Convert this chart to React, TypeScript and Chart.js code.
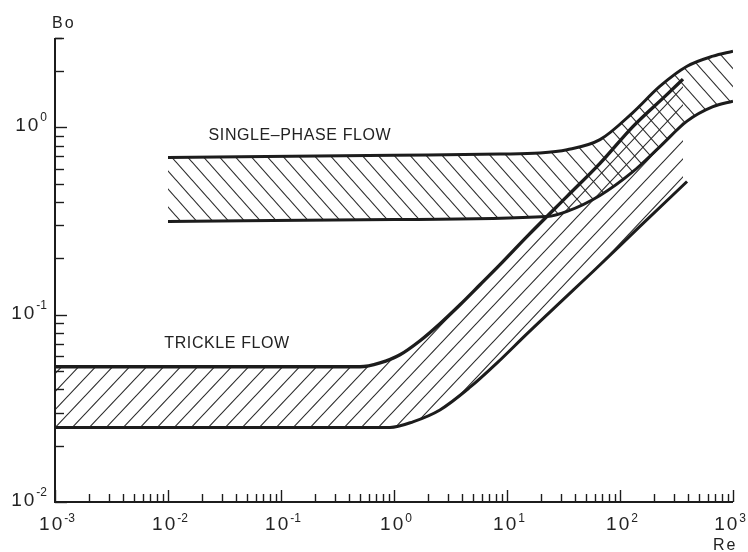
import { useEffect, useRef } from 'react';
import { Chart, registerables } from 'chart.js';

Chart.register(...registerables);

// ---------- data ----------
// Single-phase flow band
const singleTopRe = [0.01, 1, 8.7, 19.5, 34, 66.5, 130, 226, 392, 665, 1000];
const singleTopBo = [0.69, 0.71, 0.72, 0.73, 0.76, 0.86, 1.2, 1.66, 2.12, 2.4, 2.55];
const singleBottomRe = [0.01, 1, 22.6, 34, 66.5, 130, 226, 392, 665, 1000];
const singleBottomBo = [0.314, 0.322, 0.334, 0.356, 0.433, 0.58, 0.79, 1.08, 1.29, 1.38];

// Trickle flow band
const trickleTopRe = [0.001, 0.5, 0.752, 1.13, 1.7, 2.55, 3.84, 5.77, 8.67, 15, 34, 66.5, 130, 261, 361];
const trickleTopBo = [0.0527, 0.0527, 0.0553, 0.0611, 0.0726, 0.0895, 0.113, 0.1445, 0.185, 0.261, 0.428, 0.642, 1.01, 1.5, 1.81];
const trickleBottomRe = [0.001, 0.92, 1.47, 2.55, 4.71, 8.17, 15, 29.4, 57.7, 150, 392];
const trickleBottomBo = [0.025, 0.025, 0.0268, 0.031, 0.041, 0.0553, 0.079, 0.116, 0.17, 0.296, 0.514];

// Axes
const xTickExponents = ['-3', '-2', '-1', '0', '1', '2', '3'];
const yTickExponents = ['-2', '-1', '0'];
const xAxisTitle = 'Re';
const yAxisTitle = 'Bo';

// Region labels
const regionLabels = ['SINGLE–PHASE FLOW', 'TRICKLE FLOW'];
const regionLabelRe = [0.147, 0.0333];
const regionLabelBo = [0.906, 0.07];

const INK = '#1c1c1c';
const FONT = '"Liberation Sans", Arial, sans-serif';

const zip = (xs: number[], ys: number[]) => xs.map((x, i) => ({ x, y: ys[i] }));

function hatch(w: number, h: number, dir: 1 | -1): CanvasPattern | string {
  const c = document.createElement('canvas');
  c.width = w;
  c.height = h;
  const g = c.getContext('2d');
  if (!g) return 'rgba(0,0,0,0.1)';
  g.strokeStyle = '#2a2a2a';
  g.lineWidth = 1.1;
  for (let k = -1; k <= 1; k++) {
    g.beginPath();
    if (dir > 0) {
      g.moveTo(k * w - w, 2 * h);
      g.lineTo(k * w + 2 * w, -h);
    } else {
      g.moveTo(k * w - w, -h);
      g.lineTo(k * w + 2 * w, 2 * h);
    }
    g.stroke();
  }
  const p = g.createPattern(c, 'repeat');
  return p || 'rgba(0,0,0,0.1)';
}

function drawPower(
  ctx: CanvasRenderingContext2D,
  exp: string,
  anchorX: number,
  baseline: number,
  align: 'center' | 'right',
  raise: number,
  maxRight: number
) {
  const anyCtx = ctx as any;
  anyCtx.letterSpacing = '2px';
  ctx.font = `19px ${FONT}`;
  const bw = ctx.measureText('10').width;
  anyCtx.letterSpacing = '0px';
  ctx.font = `12px ${FONT}`;
  const ew = ctx.measureText(exp).width;
  const total = bw + ew;
  let left = align === 'center' ? anchorX - total / 2 : anchorX - total;
  left = Math.min(left, maxRight - total);
  ctx.textAlign = 'left';
  ctx.textBaseline = 'alphabetic';
  anyCtx.letterSpacing = '2px';
  ctx.font = `19px ${FONT}`;
  ctx.fillText('10', left, baseline);
  anyCtx.letterSpacing = '0px';
  ctx.font = `12px ${FONT}`;
  ctx.fillText(exp, left + bw, baseline - raise);
}

const decorPlugin = {
  id: 'decor',
  afterDatasetsDraw(chart: any) {
    const { ctx, chartArea: a, scales } = chart;
    const xs = scales.x;
    const ys = scales.y;
    const W = chart.width;
    ctx.save();
    ctx.strokeStyle = INK;
    ctx.fillStyle = INK;
    ctx.lineCap = 'butt';

    // axis lines
    ctx.lineWidth = 2;
    ctx.beginPath();
    ctx.moveTo(a.left, a.top);
    ctx.lineTo(a.left, a.bottom);
    ctx.lineTo(a.right, a.bottom);
    ctx.stroke();

    // x ticks (pointing up into the plot)
    ctx.lineWidth = 1.4;
    for (let e = -3; e <= 3; e++) {
      for (let m = 1; m <= 9; m++) {
        const v = m * Math.pow(10, e);
        if (v > 1000 * 1.0001) break;
        const px = Math.round(xs.getPixelForValue(v)) + 0.5;
        const len = m === 1 ? 12 : 8;
        ctx.beginPath();
        ctx.moveTo(px, a.bottom);
        ctx.lineTo(px, a.bottom - len);
        ctx.stroke();
      }
    }
    // y ticks (pointing right into the plot)
    for (let e = -2; e <= 0; e++) {
      for (let m = 1; m <= 9; m++) {
        const v = m * Math.pow(10, e);
        if (v > 3 * 1.0001) break;
        const py = Math.round(ys.getPixelForValue(v)) + 0.5;
        const len = m === 1 ? 12 : 9;
        ctx.beginPath();
        ctx.moveTo(a.left, py);
        ctx.lineTo(a.left + len, py);
        ctx.stroke();
      }
    }
    // top end of y axis
    ctx.beginPath();
    ctx.moveTo(a.left, a.top + 0.5);
    ctx.lineTo(a.left + 7, a.top + 0.5);
    ctx.stroke();

    // tick labels
    ctx.fillStyle = '#222';
    for (const ex of xTickExponents) {
      const px = xs.getPixelForValue(Math.pow(10, Number(ex)));
      drawPower(ctx, ex, px + 2, a.bottom + 28, 'center', 8, W - 2);
    }
    for (const ex of yTickExponents) {
      const py = ys.getPixelForValue(Math.pow(10, Number(ex)));
      drawPower(ctx, ex, a.left - 8, py + 4, 'right', 10, W - 2);
    }

    // axis titles
    (ctx as any).letterSpacing = '2px';
    ctx.font = `16px ${FONT}`;
    ctx.textAlign = 'left';
    ctx.textBaseline = 'alphabetic';
    ctx.fillText(yAxisTitle, a.left - 3, a.top - 10);
    ctx.fillText(xAxisTitle, a.right - 20, a.bottom + 48);

    // region labels
    (ctx as any).letterSpacing = '0.6px';
    ctx.font = `16px ${FONT}`;
    ctx.textAlign = 'center';
    ctx.textBaseline = 'middle';
    regionLabels.forEach((t, i) => {
      const px = xs.getPixelForValue(regionLabelRe[i]);
      const py = ys.getPixelForValue(regionLabelBo[i]);
      ctx.fillText(t, px, py);
    });
    (ctx as any).letterSpacing = '0px';
    ctx.restore();
  },
};

export default function App() {
  const ref = useRef<HTMLCanvasElement | null>(null);

  useEffect(() => {
    const canvas = ref.current;
    if (!canvas) return;
    const back = hatch(16, 18, -1);
    const fwd = hatch(17, 18, 1);
    const lineCommon = {
      borderColor: INK,
      borderWidth: 3,
      pointRadius: 0,
      pointHoverRadius: 0,
      cubicInterpolationMode: 'monotone' as const,
    };
    const chart = new Chart(canvas, {
      type: 'line',
      data: {
        datasets: [
          { ...lineCommon, label: 'Single-phase flow (upper)', data: zip(singleTopRe, singleTopBo), fill: '+1', backgroundColor: back as any },
          { ...lineCommon, label: 'Single-phase flow (lower)', data: zip(singleBottomRe, singleBottomBo), fill: false },
          { ...lineCommon, borderWidth: 3.4, label: 'Trickle flow (upper)', data: zip(trickleTopRe, trickleTopBo), fill: '+1', backgroundColor: fwd as any },
          { ...lineCommon, label: 'Trickle flow (lower)', data: zip(trickleBottomRe, trickleBottomBo), fill: false },
        ],
      },
      options: {
        animation: false,
        responsive: false,
        maintainAspectRatio: false,
        devicePixelRatio: 1,
        layout: { padding: { left: 55, top: 38, right: 15, bottom: 50 } },
        parsing: true,
        scales: {
          x: { type: 'logarithmic', min: 0.001, max: 1000, display: false },
          y: { type: 'logarithmic', min: 0.01, max: 3, display: false },
        },
        plugins: {
          legend: { display: false },
          tooltip: { enabled: false },
          filler: { drawTime: 'beforeDatasetsDraw' },
        } as any,
        events: [],
      },
      plugins: [decorPlugin],
    });
    return () => chart.destroy();
  }, []);

  return (
    <div style={{ position: 'fixed', left: 0, top: 0, width: 748, height: 552, background: '#fff' }}>
      <canvas ref={ref} width={748} height={552} style={{ display: 'block', width: 748, height: 552 }} />
    </div>
  );
}
